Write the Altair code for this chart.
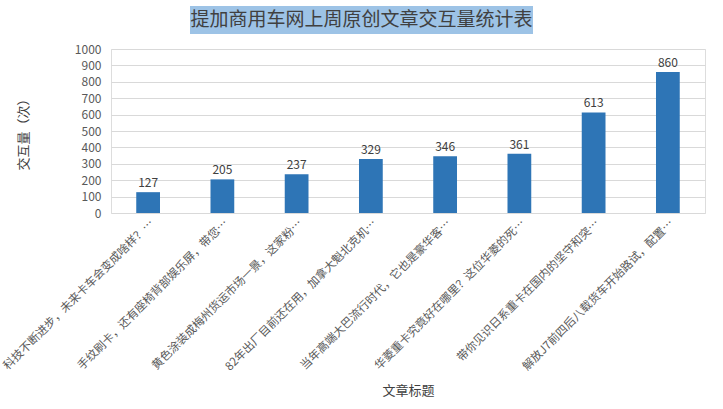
import altair as alt
import pandas as pd

titles = [
    "科技不断进步，未来卡车会变成啥样？…",
    "手纹刷卡，还有座椅背部娱乐屏，带您…",
    "黄色涂装成梅州货运市场一景，这家粉…",
    "82年出厂目前还在用，加拿大魁北克机…",
    "当年高端大巴流行时代，它也是豪华客…",
    "华菱重卡究竟好在哪里？这位华菱的死…",
    "带你见识日系重卡在国内的坚守和突…",
    "解放J7前四后八载货车开始路试，配置…",
]
values = [127, 205, 237, 329, 346, 361, 613, 860]
y_ticks = list(range(0, 1001, 100))
chart_title = "提加商用车网上周原创文章交互量统计表"

df = pd.DataFrame({"title": titles, "value": values})
FONT = "Noto Sans CJK SC"

x = alt.X("title:N", sort=titles, title="文章标题",
          scale=alt.Scale(paddingInner=0.68, paddingOuter=0.34),
          axis=alt.Axis(labelAngle=-45, labelFontSize=11.5, labelColor="#595959",
                        labelLimit=300, ticks=False, domain=False,
                        titleFontSize=13, titleFontWeight="normal", titleColor="#404040",
                        titlePadding=12, labelPadding=4))
y = alt.Y("value:Q", title="交互量（次）",
          scale=alt.Scale(domain=[0, 1000], nice=False),
          axis=alt.Axis(values=y_ticks, format="d", labelFontSize=12, labelColor="#595959",
                        labelOverlap=False, ticks=False, domain=False, gridColor="#d9d9d9",
                        titleFontSize=13, titleFontWeight="normal", titleColor="#404040",
                        titlePadding=44, labelPadding=10))

base = alt.Chart(df).encode(x=x, y=y)
bars = base.mark_bar(color="#2E75B6")
labels = base.mark_text(dy=-9, fontSize=12, color="#404040", font=FONT).encode(text="value:Q")

tdf = pd.DataFrame({"t": [chart_title]})
title_bg = alt.Chart(tdf).mark_rect(color="#9DC3E6").encode(
    x=alt.value(79), x2=alt.value(422), y=alt.value(-43), y2=alt.value(-15))
title_txt = alt.Chart(tdf).mark_text(
    fontSize=19, color="#404040", font=FONT, align="center", baseline="middle").encode(
    x=alt.value(250.5), y=alt.value(-29), text="t:N")

chart = alt.layer(bars, labels, title_bg, title_txt).properties(
    width=594, height=164,
    padding={"left": 111, "top": 49, "right": 18, "bottom": 196},
    autosize=alt.AutoSizeParams(type="none"),
    background="white",
).configure_view(stroke=None).configure(font=FONT)

chart.save("out.html", embed_options={"renderer": "svg", "actions": False})
